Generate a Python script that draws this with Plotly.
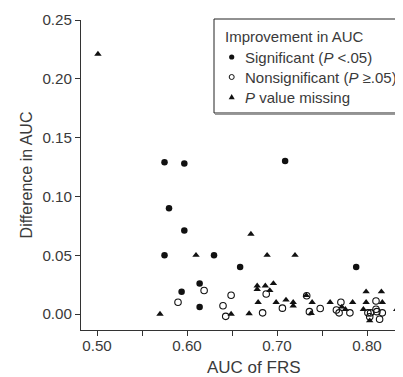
import plotly.graph_objects as go

# Significant (P < .05)
sig_x = [0.575, 0.597, 0.580, 0.597, 0.575, 0.630, 0.659, 0.614, 0.594, 0.614, 0.709, 0.788]
sig_y = [0.129, 0.128, 0.090, 0.071, 0.050, 0.050, 0.040, 0.026, 0.019, 0.006, 0.130, 0.040]

# Nonsignificant (P >= .05)
ns_x = [0.619, 0.649, 0.590, 0.640, 0.643, 0.688, 0.733, 0.706, 0.684, 0.736, 0.748,
        0.771, 0.766, 0.769, 0.781, 0.810, 0.801, 0.804, 0.810, 0.811, 0.817, 0.803, 0.814]
ns_y = [0.020, 0.016, 0.010, 0.007, -0.002, 0.017, 0.0155, 0.005, 0.001, 0.002, 0.0047,
        0.010, 0.0034, 0.001, 0.001, 0.011, 0.001, 0.001, 0.004, 0.002, 0.001, -0.0023, -0.0045]

# P value missing
mis_x = [0.501, 0.570, 0.610, 0.649, 0.669, 0.671, 0.689, 0.720, 0.678, 0.678, 0.687, 0.696,
         0.692, 0.679, 0.699, 0.710, 0.718, 0.718, 0.7325, 0.739, 0.738, 0.759, 0.772, 0.776,
         0.784, 0.799, 0.816, 0.799, 0.817, 0.796, 0.803, 0.833]
mis_y = [0.221, 0.000, 0.050, 0.000, 0.0004, 0.068, 0.050, 0.050, 0.024, 0.021, 0.024, 0.026,
         0.020, 0.010, 0.010, 0.012, 0.010, 0.007, 0.0158, 0.010, 0.0006, 0.010, 0.006, 0.004,
         0.010, 0.019, 0.019, 0.010, 0.010, 0.004, -0.0057, 0.004]

y_ticks = [0.00, 0.05, 0.10, 0.15, 0.20, 0.25]
x_ticks = [0.50, 0.60, 0.70, 0.80]

legend_title = "Improvement in AUC"
legend_labels = ["Significant (<i>P</i> &lt;.05)",
                 "Nonsignificant (<i>P</i> ≥.05)",
                 "<i>P</i> value missing"]

ink = "#111111"
txt = "#3a3a3a"
font = "Liberation Sans, Arial, sans-serif"
FS = 15.2
LFS = 15

# the page body adds an 8px margin, so the figure is laid out 8px up/left
OFF = 8
W, H = 403, 377
L, R, T, B = 81 - OFF, 0, 20 - OFF, 377 - (330 - OFF)
PW, PH = W - L - R, H - T - B


def px(xw):  # window pixel x -> paper
    return (xw - OFF - L) / PW


def py(yw):  # window pixel y -> paper
    return (H - B - (yw - OFF)) / PH


fig = go.Figure()
fig.add_trace(go.Scatter(x=sig_x, y=sig_y, mode="markers", name=legend_labels[0],
                         marker=dict(symbol="circle", size=6.5, color=ink, line=dict(width=0))))
fig.add_trace(go.Scatter(x=ns_x, y=ns_y, mode="markers", name=legend_labels[1],
                         marker=dict(symbol="circle-open", size=6.5, color=ink,
                                     line=dict(width=1.1, color=ink))))
fig.add_trace(go.Scatter(x=mis_x, y=mis_y, mode="markers", name=legend_labels[2],
                         marker=dict(symbol="triangle-up", size=6.5, color=ink, line=dict(width=0))))

# ---- manual legend (box cut by the right edge, as in the reference) ----
box_l, box_t, box_b = 214, 19, 113
shapes = [
    dict(type="rect", xref="paper", yref="paper", x0=px(box_l), x1=px(W + 30),
         y0=py(box_b), y1=py(box_t), line=dict(color="#222", width=1), fillcolor="white", layer="above"),
    dict(type="line", xref="paper", yref="paper", x0=px(box_l + 1), x1=px(W + 30),
         y0=py(box_b + 1.3), y1=py(box_b + 1.3), line=dict(color="#9a9a9a", width=1.2), layer="above"),
]
row_y = [57, 77, 97]
mk_x = 231.7
shapes.append(dict(type="circle", xref="paper", yref="paper", xsizemode="pixel", ysizemode="pixel",
                   xanchor=px(mk_x), yanchor=py(row_y[0]), x0=-2.6, x1=2.6, y0=-2.6, y1=2.6,
                   fillcolor=ink, line=dict(width=0), layer="above"))
shapes.append(dict(type="circle", xref="paper", yref="paper", xsizemode="pixel", ysizemode="pixel",
                   xanchor=px(mk_x), yanchor=py(row_y[1]), x0=-2.5, x1=2.5, y0=-2.5, y1=2.5,
                   fillcolor="white", line=dict(width=1, color=ink), layer="above"))
shapes.append(dict(type="path", xref="paper", yref="paper", xsizemode="pixel", ysizemode="pixel",
                   xanchor=px(mk_x), yanchor=py(row_y[2]), path="M -3 -2.2 L 3 -2.2 L 0 3 Z",
                   fillcolor=ink, line=dict(width=0), layer="above"))

annotations = [
    dict(text=legend_title, xref="paper", yref="paper", x=px(223), y=py(37),
         xanchor="left", yanchor="middle", showarrow=False, font=dict(size=LFS, color=txt)),
]
for lab, yy in zip(legend_labels, row_y):
    annotations.append(dict(text=lab, xref="paper", yref="paper", x=px(242.5), y=py(yy),
                            xanchor="left", yanchor="middle", showarrow=False,
                            font=dict(size=LFS, color=txt)))
annotations.append(dict(text="AUC of FRS", xref="paper", yref="paper",
                        x=px(254), y=py(367), xanchor="center", yanchor="middle",
                        showarrow=False, font=dict(size=17, color=txt)))

x_right = 0.5 + (W + OFF - 97) / 900

fig.update_layout(
    template="none",
    width=W, height=H,
    margin=dict(l=L, r=R, t=T, b=B, autoexpand=False),
    paper_bgcolor="white", plot_bgcolor="white",
    font=dict(family=font, size=FS, color=txt),
    showlegend=False,
    shapes=shapes,
    annotations=annotations,
    xaxis=dict(
        range=[0.4822, x_right], tickvals=x_ticks, ticktext=[f"{v:.2f}" for v in x_ticks],
        showgrid=False, zeroline=False, showline=True, linecolor="#333", linewidth=1,
        ticks="outside", ticklen=5, tickwidth=1, tickcolor="#333", tickfont=dict(size=FS, color=txt),
        ticklabelstandoff=-3,
        minor=dict(dtick=0.1, tick0=0.55, ticks="outside", ticklen=5, tickwidth=1,
                   tickcolor="#333", showgrid=False),
    ),
    yaxis=dict(
        range=[-0.0136, 0.25], tickvals=y_ticks, ticktext=[f"{v:.2f}" for v in y_ticks],
        showgrid=False, zeroline=False, showline=True, linecolor="#333", linewidth=1,
        ticks="outside", ticklen=5, tickwidth=1, tickcolor="#333", tickfont=dict(size=FS, color=txt),
        ticklabelstandoff=0,
        title=dict(text="Difference in AUC", font=dict(size=16, color=txt), standoff=5),
    ),
)

fig.write_html("out.html")
